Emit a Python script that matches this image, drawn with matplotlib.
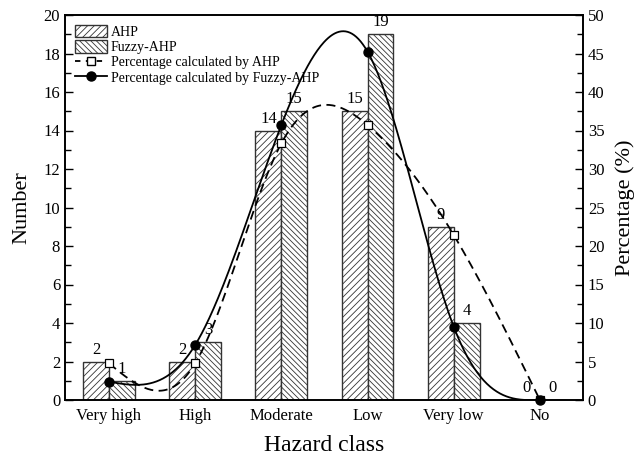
import numpy as np
import matplotlib
matplotlib.use("Agg")
import matplotlib.pyplot as plt
from matplotlib.patches import Patch
from matplotlib.lines import Line2D

plt.rcParams['font.family'] = ['Liberation Serif', 'DejaVu Serif']
plt.rcParams['hatch.linewidth'] = 0.6

categories = ["Very high", "High", "Moderate", "Low", "Very low", "No"]
ahp_counts = [2, 2, 14, 15, 9, 0]
fuzzy_counts = [1, 3, 15, 19, 4, 0]
ahp_pct = [4.76, 4.76, 33.33, 35.71, 21.43, 0.0]
fuzzy_pct = [2.38, 7.14, 35.71, 45.24, 9.52, 0.0]


def natural_spline(x, y, xs):
    x = np.asarray(x, float); y = np.asarray(y, float)
    n = len(x)
    h = np.diff(x)
    A = np.zeros((n, n)); b = np.zeros(n)
    A[0, 0] = 1; A[-1, -1] = 1
    for i in range(1, n - 1):
        A[i, i - 1] = h[i - 1]
        A[i, i] = 2 * (h[i - 1] + h[i])
        A[i, i + 1] = h[i]
        b[i] = 6 * ((y[i + 1] - y[i]) / h[i] - (y[i] - y[i - 1]) / h[i - 1])
    M = np.linalg.solve(A, b)
    out = np.empty_like(xs)
    for k, t in enumerate(xs):
        i = min(max(np.searchsorted(x, t) - 1, 0), n - 2)
        a = x[i + 1] - t; c = t - x[i]
        out[k] = (M[i] * a**3 / (6 * h[i]) + M[i + 1] * c**3 / (6 * h[i])
                  + (y[i] / h[i] - M[i] * h[i] / 6) * a
                  + (y[i + 1] / h[i] - M[i + 1] * h[i] / 6) * c)
    return out


fig = plt.figure(figsize=(6.44, 4.57), dpi=100)
ax = fig.add_axes([65 / 644, 1 - 400 / 457, (583 - 65) / 644, (400 - 15) / 457])
ax2 = ax.twinx()

x = np.arange(len(categories))
w = 0.3
ax.bar(x - w / 2, ahp_counts, w, facecolor='white', edgecolor='#333333',
       hatch='/////', linewidth=1.0, zorder=2)
ax.bar(x + w / 2, fuzzy_counts, w, facecolor='white', edgecolor='#333333',
       hatch='\\\\\\\\\\\\', linewidth=1.0, zorder=2)

for xi, v in zip(x, ahp_counts):
    ax.text(xi - w / 2, v + 0.2, str(v), ha='center', va='bottom', fontsize=12)
for xi, v in zip(x, fuzzy_counts):
    ax.text(xi + w / 2, v + 0.2, str(v), ha='center', va='bottom', fontsize=12)

ax.set_xlim(-0.51, 5.5)
ax.set_ylim(0, 20)
ax.set_yticks(np.arange(0, 21, 2))
ax.set_yticks(np.arange(1, 20, 2), minor=True)
ax.set_xticks(x)
ax.set_xticklabels(categories)
ax.tick_params(axis='both', which='major', direction='in', length=6, labelsize=12, width=1)
ax.tick_params(axis='y', which='minor', direction='in', length=4, width=1)
ax.tick_params(axis='x', which='major', length=0, pad=6)
ax.set_ylabel('Number', fontsize=16, labelpad=9)
ax.set_xlabel('Hazard class', fontsize=17, labelpad=8)

xs = np.linspace(0, 5, 400)
ax2.plot(xs, natural_spline(x, ahp_pct, xs), color='black', lw=1.3, ls=(0, (5, 3)), zorder=3)
ax2.plot(xs, natural_spline(x, fuzzy_pct, xs), color='black', lw=1.3, zorder=3)
ax2.plot(x, ahp_pct, ls='none', marker='s', ms=5.8, mfc='white', mec='black', mew=0.9, zorder=4)
ax2.plot(x, fuzzy_pct, ls='none', marker='o', ms=6.5, mfc='black', mec='black', zorder=5, clip_on=False)
ax2.set_ylim(0, 50)
ax2.set_yticks(np.arange(0, 51, 5))
ax2.set_yticks(np.arange(2.5, 50, 5), minor=True)
ax2.tick_params(axis='y', which='major', direction='in', length=6, labelsize=12, width=1)
ax2.tick_params(axis='y', which='minor', direction='in', length=4, width=1)
ax2.set_ylabel('Percentage (%)', fontsize=16, labelpad=8)

for a in (ax, ax2):
    for s in a.spines.values():
        s.set_linewidth(1.2)

handles = [
    Patch(facecolor='white', edgecolor='#333333', hatch='/////', label='AHP'),
    Patch(facecolor='white', edgecolor='#333333', hatch='\\\\\\\\\\\\', label='Fuzzy-AHP'),
    Line2D([], [], color='black', lw=1.3, ls=(0, (3, 3)), marker='s', mfc='white',
           mec='black', ms=5.8, label='Percentage calculated by AHP'),
    Line2D([], [], color='black', lw=1.3, marker='o', ms=6.5, mfc='black',
           label='Percentage calculated by Fuzzy-AHP'),
]
ax2.legend(handles=handles, loc='upper left', bbox_to_anchor=(0.0, 1.0), frameon=False,
           fontsize=10, handlelength=2.3, handleheight=1.0, labelspacing=0.1,
           handletextpad=0.3, borderaxespad=0.4, borderpad=0.3)

fig.savefig('out.png', dpi=100)
